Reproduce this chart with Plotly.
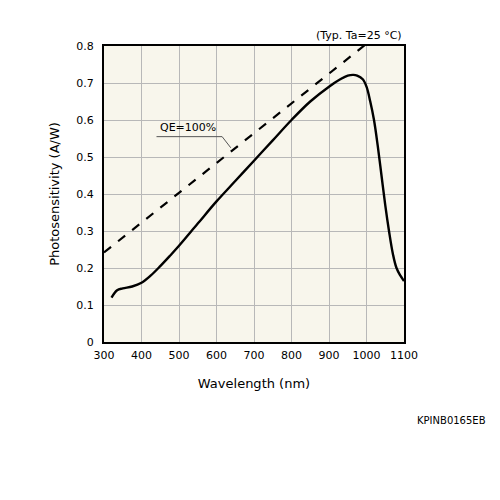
import plotly.graph_objects as go

# photosensitivity curve
wavelength = [320, 335, 350, 375, 400, 425, 450, 475, 500, 550, 600, 650, 700, 750, 800, 850,
              900, 930, 950, 965, 975, 990, 1000, 1010, 1020, 1030, 1040, 1050, 1060, 1070, 1080, 1090, 1100]
sensitivity = [0.12, 0.14, 0.145, 0.15, 0.16, 0.18, 0.205, 0.232, 0.26, 0.32, 0.38, 0.435, 0.49, 0.545, 0.60, 0.65,
               0.69, 0.71, 0.72, 0.722, 0.72, 0.71, 0.69, 0.65, 0.6, 0.53, 0.45, 0.37, 0.3, 0.24, 0.2, 0.18, 0.165]

# QE = 100% reference line
qe_x = [300, 1000]
qe_y = [0.242, 0.806]

fig = go.Figure()
fig.add_trace(go.Scatter(x=qe_x, y=qe_y, mode='lines',
                         line=dict(color='black', width=2.2, dash='dash'), showlegend=False))
fig.add_trace(go.Scatter(x=wavelength, y=sensitivity, mode='lines', line_shape='spline',
                         line=dict(color='black', width=2.4), showlegend=False))

# leader line for the QE label
fig.add_shape(type='line', x0=440, x1=615, y0=0.555, y1=0.555, line=dict(color='#555', width=1))
fig.add_shape(type='line', x0=615, x1=638, y0=0.555, y1=0.525, line=dict(color='#555', width=1))
fig.add_annotation(x=445, y=0.557, text='QE=100%', showarrow=False, xanchor='left', yanchor='bottom',
                   font=dict(size=11, color='black'))

fig.add_annotation(x=1, y=1, xref='paper', yref='paper', text='(Typ. Ta=25 °C)', showarrow=False,
                   xanchor='right', yanchor='bottom', yshift=2, font=dict(size=11, color='black'))
fig.add_annotation(xref='paper', yref='paper', x=(480 - 96) / 300, y=-(412 - 334) / 296,
                   text='KPINB0165EB', showarrow=False,
                   xanchor='right', yanchor='middle', font=dict(size=10, color='black'))

fig.update_layout(
    width=500, height=500,
    margin=dict(l=96, r=104, t=38, b=166),
    paper_bgcolor='white', plot_bgcolor='#f8f6ec',
    font=dict(family='DejaVu Sans', size=11, color='black'),
    xaxis=dict(range=[300, 1100], dtick=100, showgrid=True, gridcolor='#b8b8b8', gridwidth=1,
               zeroline=False, showline=True, linecolor='black', linewidth=2, mirror=True,
               automargin=False, ticklabelstandoff=2,
               ticks='', title=dict(text='Wavelength (nm)', standoff=18, font=dict(size=13))),
    yaxis=dict(range=[0, 0.8], tickvals=[0, 0.1, 0.2, 0.3, 0.4, 0.5, 0.6, 0.7, 0.8],
               ticktext=['0', '0.1', '0.2', '0.3', '0.4', '0.5', '0.6', '0.7', '0.8'],
               showgrid=True, gridcolor='#b8b8b8', gridwidth=1,
               zeroline=False, showline=True, linecolor='black', linewidth=2, mirror=True,
               automargin=False, ticklabelstandoff=6,
               ticks='', title=dict(text='Photosensitivity (A/W)', standoff=14, font=dict(size=13))),
)

fig.write_html("out.html")
